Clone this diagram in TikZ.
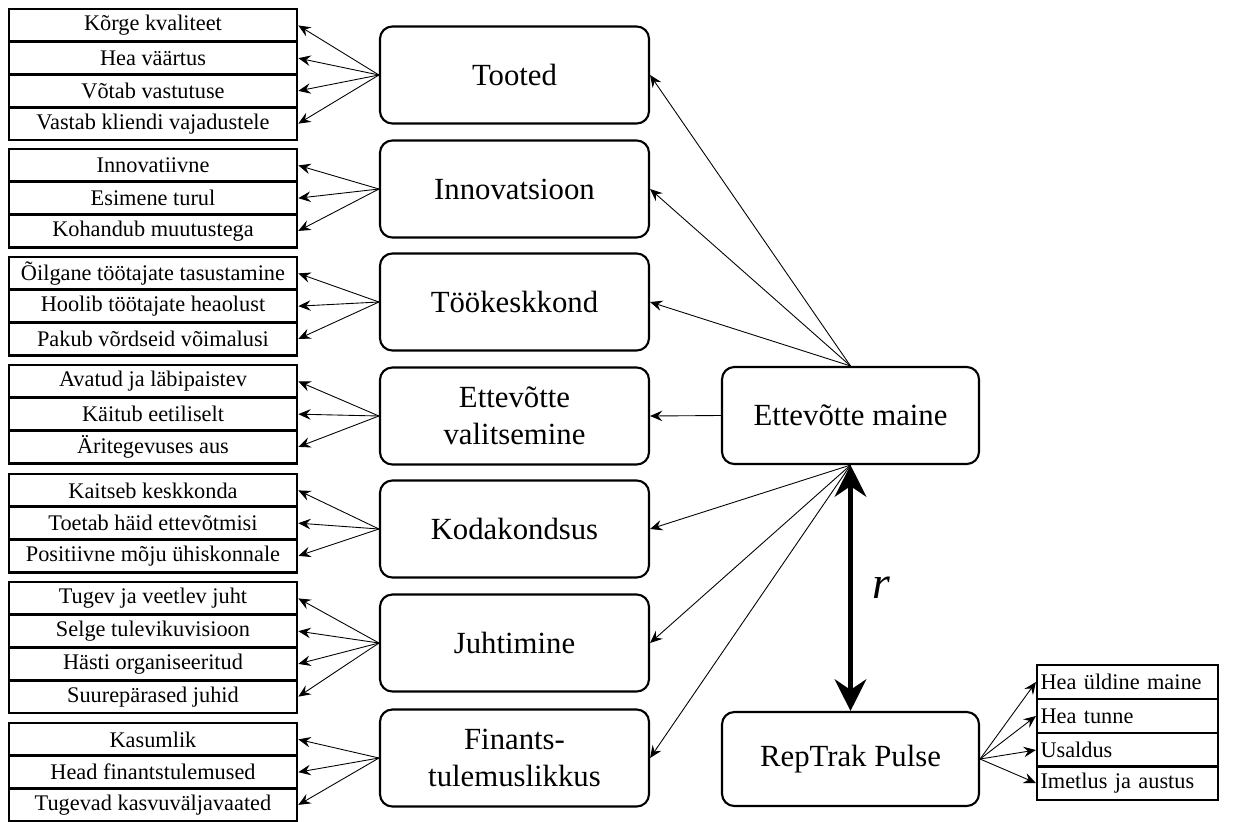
\documentclass[tikz,border=0pt]{standalone}
\usepackage{fontspec}
\setmainfont{Liberation Serif}
\usetikzlibrary{arrows.meta}

\begin{document}
\begin{tikzpicture}[
  item/.style={draw, line width=1.5pt, minimum width=5.76cm, minimum height=0.655cm, inner sep=0pt, font=\fontsize{12.7}{14}\selectfont},
  pulseitem/.style={draw, line width=1.2pt, text width=3.48cm, minimum height=0.675cm, inner xsep=2pt, inner ysep=0pt, align=left, font=\fontsize{12.7}{14}\selectfont},
  factor/.style={draw, rounded corners=7pt, line width=1.2pt, minimum width=5.38cm, minimum height=1.94cm, align=center, font=\fontsize{17.5}{21}\selectfont},
  arr/.style={-{Stealth[length=7pt,width=6pt,inset=2.5pt]}, line width=0.5pt},
]

\useasboundingbox (0,0) rectangle (24.86,-16.42);

% left items
\node[item] (kvaliteet) at (3.06,-0.508) {Kõrge kvaliteet};
\node[item] (vaartus) at (3.06,-1.163) {Hea väärtus};
\node[item] (vastutus) at (3.06,-1.818) {Võtab vastutuse};
\node[item] (vajadused) at (3.06,-2.473) {Vastab kliendi vajadustele};

\node[item] (innovatiivne) at (3.06,-3.308) {Innovatiivne};
\node[item] (esimene) at (3.06,-3.963) {Esimene turul};
\node[item] (kohandub) at (3.06,-4.618) {Kohandub muutustega};

\node[item] (tasustamine) at (3.06,-5.468) {Õilgane töötajate tasustamine};
\node[item] (heaolu) at (3.06,-6.123) {Hoolib töötajate heaolust};
\node[item] (voimalused) at (3.06,-6.778) {Pakub võrdseid võimalusi};

\node[item] (avatud) at (3.06,-7.628) {Avatud ja läbipaistev};
\node[item] (eetiline) at (3.06,-8.283) {Käitub eetiliselt};
\node[item] (aus) at (3.06,-8.938) {Äritegevuses aus};

\node[item] (keskkond) at (3.06,-9.808) {Kaitseb keskkonda};
\node[item] (toetab) at (3.06,-10.463) {Toetab häid ettevõtmisi};
\node[item] (moju) at (3.06,-11.118) {Positiivne mõju ühiskonnale};

\node[item] (juht) at (3.06,-11.968) {Tugev ja veetlev juht};
\node[item] (visioon) at (3.06,-12.623) {Selge tulevikuvisioon};
\node[item] (organiseeritud) at (3.06,-13.278) {Hästi organiseeritud};
\node[item] (juhid) at (3.06,-13.933) {Suurepärased juhid};

\node[item] (kasumlik) at (3.06,-14.788) {Kasumlik};
\node[item] (tulemused) at (3.06,-15.443) {Head finantstulemused};
\node[item] (kasv) at (3.06,-16.098) {Tugevad kasvuväljavaated};

% factors
\node[factor] (tooted) at (10.29,-1.50) {Tooted};
\node[factor] (innovatsioon) at (10.29,-3.78) {Innovatsioon};
\node[factor] (tookeskkond) at (10.29,-6.04) {Töökeskkond};
\node[factor] (valitsemine) at (10.29,-8.32) {Ettevõtte\\valitsemine};
\node[factor] (kodakondsus) at (10.29,-10.58) {Kodakondsus};
\node[factor] (juhtimine) at (10.29,-12.86) {Juhtimine};
\node[factor] (finants) at (10.29,-15.16) {Finants-\\tulemuslikkus};

\node[factor, minimum width=5.14cm] (maine) at (17.01,-8.31) {Ettevõtte maine};
\node[factor, minimum width=5.14cm, minimum height=1.88cm] (pulse) at (17.01,-15.18) {RepTrak Pulse};

% pulse items
\node[pulseitem] (yldine) at (22.55,-13.64) {Hea üldine maine};
\node[pulseitem] (tunne) at (22.55,-14.32) {Hea tunne};
\node[pulseitem] (usaldus) at (22.55,-15.0) {Usaldus};
\node[pulseitem] (imetlus) at (22.55,-15.66) {Imetlus ja austus};

\draw[arr] (tooted.west) -- (kvaliteet.east);
\draw[arr] (tooted.west) -- (vaartus.east);
\draw[arr] (tooted.west) -- (vastutus.east);
\draw[arr] (tooted.west) -- (vajadused.east);

\draw[arr] (innovatsioon.west) -- (innovatiivne.east);
\draw[arr] (innovatsioon.west) -- (esimene.east);
\draw[arr] (innovatsioon.west) -- (kohandub.east);

\draw[arr] (tookeskkond.west) -- (tasustamine.east);
\draw[arr] (tookeskkond.west) -- (heaolu.east);
\draw[arr] (tookeskkond.west) -- (voimalused.east);

\draw[arr] (valitsemine.west) -- (avatud.east);
\draw[arr] (valitsemine.west) -- (eetiline.east);
\draw[arr] (valitsemine.west) -- (aus.east);

\draw[arr] (kodakondsus.west) -- (keskkond.east);
\draw[arr] (kodakondsus.west) -- (toetab.east);
\draw[arr] (kodakondsus.west) -- (moju.east);

\draw[arr] (juhtimine.west) -- (juht.east);
\draw[arr] (juhtimine.west) -- (visioon.east);
\draw[arr] (juhtimine.west) -- (organiseeritud.east);
\draw[arr] (juhtimine.west) -- (juhid.east);

\draw[arr] (finants.west) -- (kasumlik.east);
\draw[arr] (finants.west) -- (tulemused.east);
\draw[arr] (finants.west) -- (kasv.east);

\draw[arr] (maine.north) -- (tooted.east);
\draw[arr] (maine.north) -- (innovatsioon.east);
\draw[arr] (maine.north) -- (tookeskkond.east);
\draw[arr] (maine.west) -- (valitsemine.east);
\draw[arr] (maine.south) -- (kodakondsus.east);
\draw[arr] (maine.south) -- (juhtimine.east);
\draw[arr] (maine.south) -- (finants.east);

\draw[{Stealth[length=18pt,width=18pt,inset=6pt]}-{Stealth[length=18pt,width=18pt,inset=6pt]}, line width=2.8pt] (maine.south) -- (pulse.north)
  node[midway, right=8pt, font=\fontsize{26}{30}\selectfont\itshape] (r) {r};

\draw[arr] (pulse.east) -- (yldine.west);
\draw[arr] (pulse.east) -- (tunne.west);
\draw[arr] (pulse.east) -- (usaldus.west);
\draw[arr] (pulse.east) -- (imetlus.west);

\end{tikzpicture}
\end{document}
